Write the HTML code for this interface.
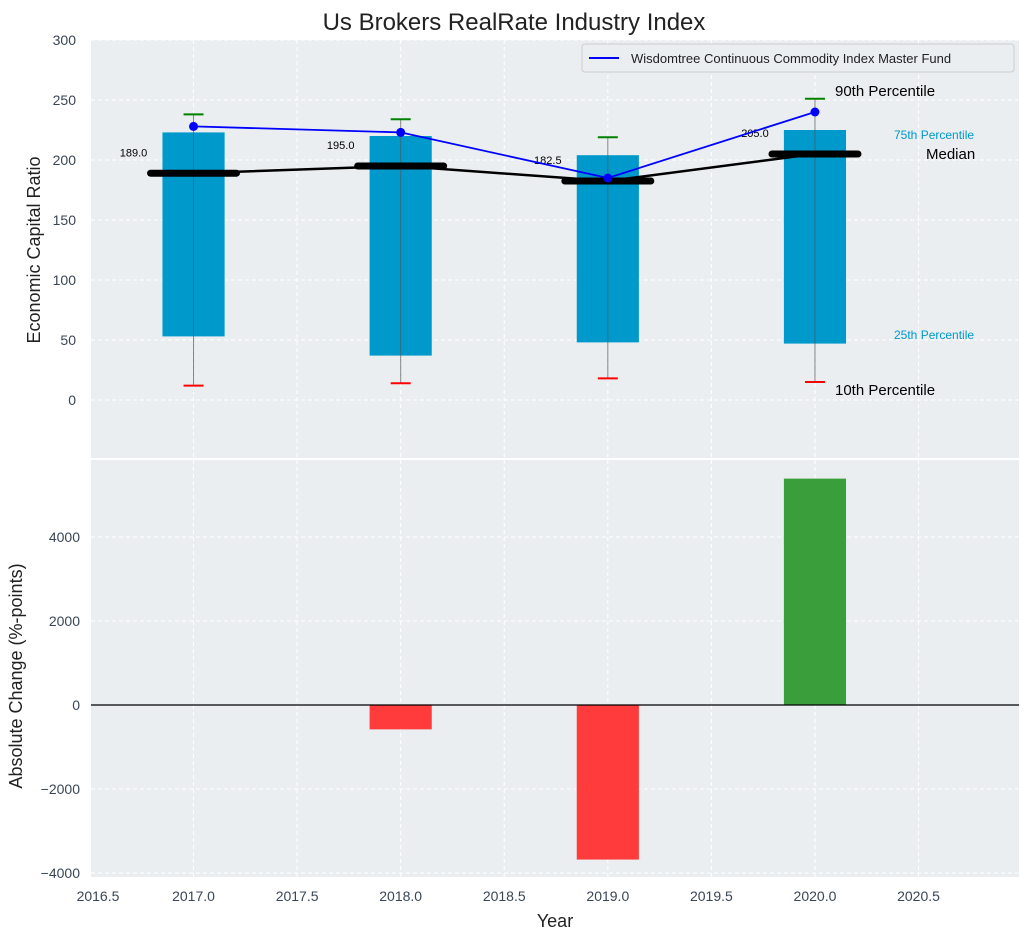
<!DOCTYPE html>
<html><head><meta charset="utf-8"><style>
body{margin:0;background:#fff;font-family:"Liberation Sans","DejaVu Sans",sans-serif}
svg text{font-family:"Liberation Sans","DejaVu Sans",sans-serif}
</style></head><body>
<svg id="c" width="1029" height="940" xmlns="http://www.w3.org/2000/svg"></svg>
<script>
const years=[2017,2018,2019,2020];
const p25=[53,37,48,47];
const p75=[223,220,204,225];
const p10=[12,14,18,15];
const p90=[238,234,219,251];
const medians=[189,195,182.5,205];
const fund=[228,223,185,240];
const changes=[0,-580,-3680,5390];
const xTicks=[2016.5,2017,2017.5,2018,2018.5,2019,2019.5,2020,2020.5];
const yTopTicks=[0,50,100,150,200,250,300];
const yBotTicks=[-4000,-2000,0,2000,4000];

const NS="http://www.w3.org/2000/svg";
const svg=document.getElementById('c');
function el(t,a,txt){const e=document.createElementNS(NS,t);for(const k in a)e.setAttribute(k,a[k]);if(txt!==undefined)e.textContent=txt;svg.appendChild(e);return e;}
const L=91,R=1019;
const X=v=>L+(v-2016.505)/(2020.985-2016.505)*(R-L);
const T0=40,T1=458,B0=460,B1=877;
const Yt=v=>400-1.2*v;
const Yb=v=>705-0.042*v;
const bw=X(2017.15)-X(2016.85);

let e=el('rect',{x:L,y:T0,width:R-L,height:T1-T0,fill:'#eaeef0'});

e=el('rect',{x:L,y:B0,width:R-L,height:B1-B0,fill:'#eaeef0'});

xTicks.forEach(t=>{
 if(t<2017)return;
 el('line',{x1:X(t),x2:X(t),y1:T0,y2:T1,stroke:'#fff','stroke-dasharray':'4,3'});
 el('line',{x1:X(t),x2:X(t),y1:B0,y2:B1,stroke:'#fff','stroke-dasharray':'4,3'});
});
yTopTicks.forEach(t=>{
 el('line',{x1:L,x2:R,y1:Yt(t),y2:Yt(t),stroke:'#fff','stroke-dasharray':'4,3'});
 e=el('text',{x:76,y:Yt(t)+5,'text-anchor':'end','font-size':14,fill:'#3a4656'},t);
 
});
yBotTicks.forEach(t=>{
 el('line',{x1:L,x2:R,y1:Yb(t),y2:Yb(t),stroke:'#fff','stroke-dasharray':'4,3'});
 e=el('text',{x:80,y:Yb(t)+5,'text-anchor':'end','font-size':14,fill:'#3a4656'},t===0?'0':(t<0?'−'+(-t):t));
 
});
xTicks.forEach(t=>{
 e=el('text',{x:Math.max(X(t),98),y:901,'text-anchor':'middle','font-size':14,fill:'#3a4656'},t.toFixed(1));
 
});
years.forEach((y,i)=>{
 e=el('rect',{x:X(y)-bw/2,y:Yt(p75[i]),width:bw,height:Yt(p25[i])-Yt(p75[i]),fill:'#0099cc'});
 
 el('line',{x1:X(y),x2:X(y),y1:Yt(p90[i]),y2:Yt(p10[i]),stroke:'#555','stroke-width':1,opacity:0.7});
 e=el('line',{x1:X(y)-10,x2:X(y)+10,y1:Yt(p90[i]),y2:Yt(p90[i]),stroke:'green','stroke-width':2});
 
 e=el('line',{x1:X(y)-10,x2:X(y)+10,y1:Yt(p10[i]),y2:Yt(p10[i]),stroke:'red','stroke-width':2});
 
});
e=el('polyline',{points:years.map((y,i)=>X(y)+','+Yt(medians[i])).join(' '),fill:'none',stroke:'#000','stroke-width':2.5});

years.forEach((y,i)=>{
 e=el('line',{x1:X(y)-43,x2:X(y)+43,y1:Yt(medians[i]),y2:Yt(medians[i]),stroke:'#000','stroke-width':7,'stroke-linecap':'round'});
 
 e=el('text',{x:X(y)-60,y:Yt(medians[i]+14),'text-anchor':'middle','font-size':11,fill:'#000'},medians[i].toFixed(1));
 
});
e=el('polyline',{points:years.map((y,i)=>X(y)+','+Yt(fund[i])).join(' '),fill:'none',stroke:'#0000ff','stroke-width':1.8});

years.forEach((y,i)=>{e=el('circle',{cx:X(y),cy:Yt(fund[i]),r:4.5,fill:'#0000ff'});
 });
[['90th Percentile',835,96,15,'#000'],['75th Percentile',894,139,12,'#0099cc'],['Median',926,159,15,'#000'],['25th Percentile',894,339,12,'#0099cc'],['10th Percentile',835,395,15,'#000']].forEach(a=>{
 e=el('text',{x:a[1],y:a[2],'font-size':a[3],fill:a[4]},a[0]);
 
});
e=el('rect',{x:582,y:44,width:432,height:28,fill:'#eaeef0',stroke:'#ccc',rx:3});

el('line',{x1:589,x2:619,y1:58,y2:58,stroke:'#0000ff','stroke-width':2});
e=el('text',{x:631,y:63,'font-size':13,fill:'#222'},'Wisdomtree Continuous Commodity Index Master Fund');

years.forEach((y,i)=>{
 const v=changes[i];if(v===0)return;
 e=el('rect',{x:X(y)-bw/2,y:Math.min(Yb(v),Yb(0)),width:bw,height:Math.abs(Yb(v)-Yb(0)),fill:v<0?'#ff3b3b':'#3a9e3a'});
 
});
el('line',{x1:L,x2:R,y1:Yb(0),y2:Yb(0),stroke:'#000','stroke-width':1.2});
e=el('text',{x:514,y:30,'text-anchor':'middle','font-size':24,fill:'#222'},'Us Brokers RealRate Industry Index');

e=el('text',{x:40,y:250,'text-anchor':'middle','font-size':18,fill:'#222',transform:'rotate(-90 40 250)'},'Economic Capital Ratio');

e=el('text',{x:22,y:676,'text-anchor':'middle','font-size':18,fill:'#222',transform:'rotate(-90 22 676)'},'Absolute Change (%-points)');

e=el('text',{x:555,y:927,'text-anchor':'middle','font-size':18,fill:'#222'},'Year');

</script>
</body></html>
